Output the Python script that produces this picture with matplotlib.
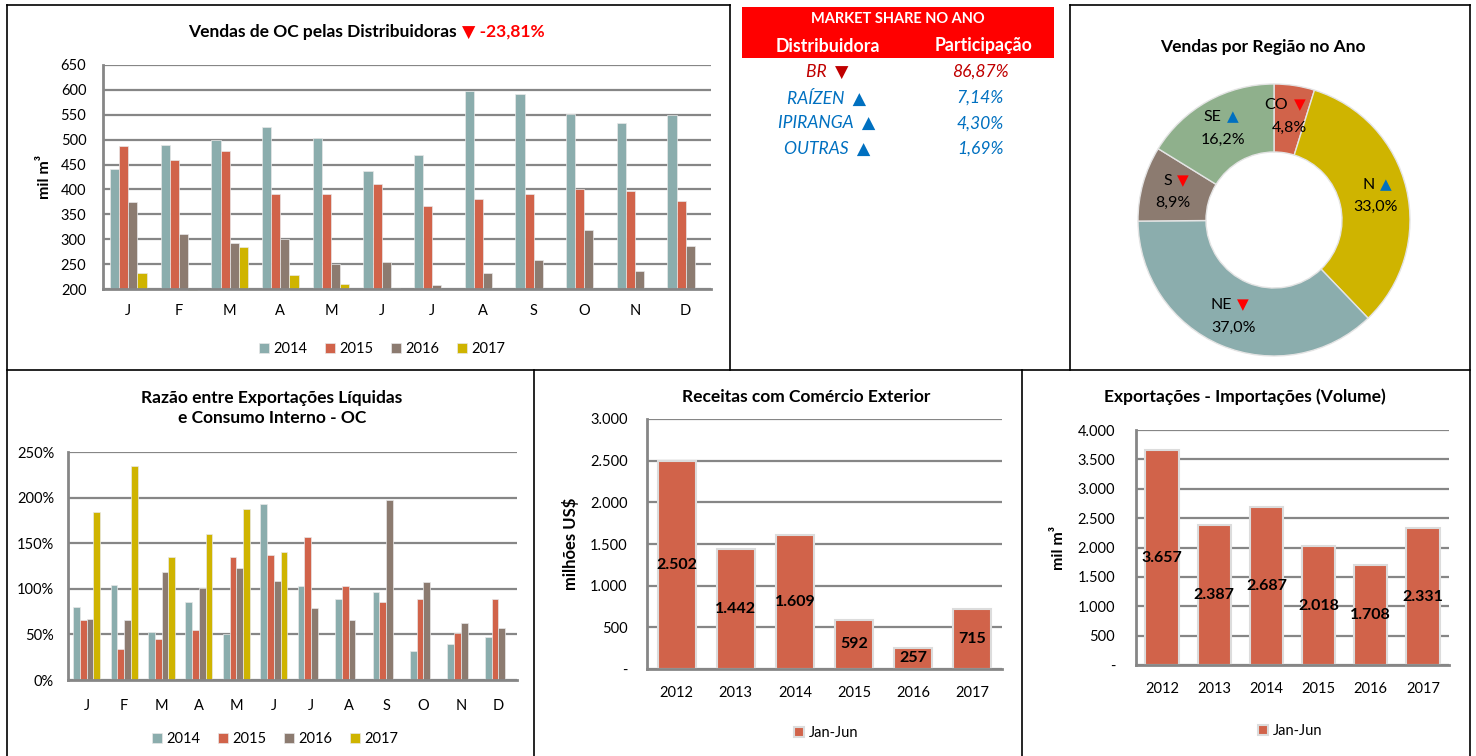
import matplotlib
matplotlib.use('Agg')
import matplotlib.pyplot as plt
from matplotlib.lines import Line2D
from matplotlib.patches import Rectangle
import numpy as np

plt.rcParams['font.family'] = ['Lato', 'DejaVu Sans']

W, H = 1476, 756

# ---- dados ----
meses = ['J', 'F', 'M', 'A', 'M', 'J', 'J', 'A', 'S', 'O', 'N', 'D']
anos = ['2014', '2015', '2016', '2017']
vendas_2014 = [442, 490, 499, 525, 504, 438, 469, 597, 592, 552, 533, 550]
vendas_2015 = [487, 460, 477, 390, 390, 410, 367, 381, 390, 400, 397, 377]
vendas_2016 = [375, 310, 292, 300, 250, 255, 209, 233, 258, 318, 237, 286]
vendas_2017 = [233, 197, 285, 229, 211, 203, np.nan, np.nan, np.nan, np.nan, np.nan, np.nan]
variacao_vendas = '-23,81%'

razao_2014 = [80, 104, 53, 85, 50, 193, 103, 89, 96, 32, 39, 47]
razao_2015 = [66, 34, 45, 55, 135, 137, 157, 103, 85, 89, 51, 89]
razao_2016 = [67, 66, 118, 101, 123, 109, 79, 66, 197, 107, 63, 57]
razao_2017 = [184, 235, 135, 160, 187, 140, np.nan, np.nan, np.nan, np.nan, np.nan, np.nan]

distribuidoras = ['BR', 'RAÍZEN', 'IPIRANGA', 'OUTRAS']
participacao = ['86,87%', '7,14%', '4,30%', '1,69%']
dist_sobe = [False, True, True, True]

regioes = ['CO', 'N', 'NE', 'S', 'SE']
regiao_share = [4.8, 33.0, 37.0, 8.9, 16.2]
regiao_sobe = [False, True, False, False, True]

anos_ext = ['2012', '2013', '2014', '2015', '2016', '2017']
receitas = [2502, 1442, 1609, 592, 257, 715]
volume_liq = [3657, 2387, 2687, 2018, 1708, 2331]

cores = ['#8BADAD', '#D1634A', '#8C7B70', '#CFB400']
cores_regiao = ['#D1634A', '#CFB400', '#8BADAD', '#8C7B70', '#8FB08C']
VERMELHO = '#FF0000'
AZUL = '#0070C0'
GRADE = '#868686'
TITULO = 12.5


def rect(x0, y0, x1, y1):
    return [x0 / W, 1 - y1 / H, (x1 - x0) / W, (y1 - y0) / H]


def fx(px):
    return px / W


def fy(py):
    return 1 - py / H


def milhar(v, pos=None):
    if v == 0:
        return '-'
    return f'{v:,.0f}'.replace(',', '.')


def estilo(ax, ypad, xpad):
    for s in ['top', 'right']:
        ax.spines[s].set_visible(False)
    for s in ['left', 'bottom']:
        ax.spines[s].set_color(GRADE)
        ax.spines[s].set_linewidth(2)
    ax.grid(axis='y', color=GRADE, linewidth=1.6)
    ax.set_axisbelow(True)
    ax.tick_params(axis='both', length=0, labelsize=10.5, colors='black')
    ax.tick_params(axis='y', pad=ypad)
    ax.tick_params(axis='x', pad=xpad)


fig = plt.figure(figsize=(W / 100, H / 100), dpi=100)

# ---- vendas mensais ----
ax1 = fig.add_axes(rect(103, 65, 711, 289))
x = np.arange(len(meses))
bw = 0.18
for i, serie in enumerate([vendas_2014, vendas_2015, vendas_2016, vendas_2017]):
    vals = np.array(serie, dtype=float)
    ax1.bar(x + (i - 1.5) * bw, vals - 200, bw, bottom=200, color=cores[i],
            edgecolor='#e8e8e8', linewidth=0.5, label=anos[i], clip_on=False)
ax1.set_ylim(200, 650)
ax1.set_yticks(range(200, 651, 50))
ax1.set_xlim(-0.5, 11.5)
ax1.set_xticks(x)
ax1.set_xticklabels(meses)
estilo(ax1, 12, 11)
ax1.set_ylabel('mil m³', fontsize=11.5, fontweight='bold', labelpad=6)
ax1.legend(loc='center', bbox_to_anchor=(fx(382), fy(349)), bbox_transform=fig.transFigure,
           ncol=4, frameon=False, fontsize=10.5, handlelength=0.7, handleheight=0.7,
           handletextpad=0.3, columnspacing=1.2)
t1 = fig.text(fx(188), fy(32), 'Vendas de OC pelas Distribuidoras', fontsize=TITULO,
              fontweight='bold', ha='left', va='center')
ax1.annotate('▼ ' + variacao_vendas, xy=(1, 0.5), xycoords=t1, xytext=(4, 0),
             textcoords='offset points', fontsize=TITULO, fontweight='bold', color=VERMELHO,
             va='center', ha='left', annotation_clip=False)

# ---- market share ----
fig.patches.append(Rectangle((fx(742), fy(58)), fx(1054) - fx(742), fy(7) - fy(58),
                             transform=fig.transFigure, facecolor=VERMELHO, edgecolor='none'))
fig.text(fx(898), fy(19), 'MARKET SHARE NO ANO', color='white', fontsize=10.5,
         fontweight='bold', ha='center', va='center')
fig.text(fx(828), fy(46), 'Distribuidora', color='white', fontsize=12.8,
         fontweight='bold', ha='center', va='center')
fig.text(fx(984), fy(46), 'Participação', color='white', fontsize=12.8,
         fontweight='bold', ha='center', va='center')
for k, (nome, part, sobe) in enumerate(zip(distribuidoras, participacao, dist_sobe)):
    yy = 72 + k * 25.7
    cor = AZUL if sobe else '#C00000'
    fig.text(fx(827), fy(yy), nome + '  ' + ('▲' if sobe else '▼'), color=cor,
             fontsize=12.6, style='italic', ha='center', va='center')
    fig.text(fx(980), fy(yy), part, color=cor, fontsize=12.6, style='italic',
             ha='center', va='center')

# ---- donut regioes ----
ax2 = fig.add_axes(rect(1138, 84, 1410, 356))
wedges, _ = ax2.pie(regiao_share, colors=cores_regiao, startangle=90, counterclock=False,
                    radius=1, wedgeprops=dict(width=0.5, edgecolor='#e4e4e4', linewidth=1))
ax2.set_xlim(-1, 1)
ax2.set_ylim(-1, 1)
ax2.set_aspect('equal')
for w, nome, val, sobe in zip(wedges, regioes, regiao_share, regiao_sobe):
    ang = np.deg2rad((w.theta1 + w.theta2) / 2)
    px, py = 0.77 * np.cos(ang), 0.77 * np.sin(ang)
    tn = ax2.annotate(nome, xy=(px, py), xytext=(-1, 8), textcoords='offset points',
                      fontsize=11.5, ha='right', va='center')
    ax2.annotate('▲' if sobe else '▼', xy=(1, 0.5), xycoords=tn, xytext=(4, 0),
                 textcoords='offset points', fontsize=11, color=AZUL if sobe else VERMELHO,
                 ha='left', va='center', annotation_clip=False)
    ax2.annotate(f'{val:.1f}%'.replace('.', ','), xy=(px, py), xytext=(0, -8),
                 textcoords='offset points', fontsize=11.5, ha='center', va='center')
fig.text(fx(1263), fy(47), 'Vendas por Região no Ano', fontsize=TITULO, fontweight='bold',
         ha='center', va='center')

# ---- razao exportacoes / consumo ----
ax3 = fig.add_axes(rect(68, 452, 517, 680))
for i, serie in enumerate([razao_2014, razao_2015, razao_2016, razao_2017]):
    ax3.bar(x + (i - 1.5) * bw, np.array(serie, dtype=float), bw, color=cores[i],
            edgecolor='#e8e8e8', linewidth=0.5, label=anos[i])
ax3.set_ylim(0, 250)
ax3.set_yticks(range(0, 251, 50))
ax3.yaxis.set_major_formatter(lambda v, p: f'{v:.0f}%')
ax3.set_xlim(-0.5, 11.5)
ax3.set_xticks(x)
ax3.set_xticklabels(meses)
estilo(ax3, 10, 13.5)
ax3.legend(loc='center', bbox_to_anchor=(fx(275), fy(739)), bbox_transform=fig.transFigure,
           ncol=4, frameon=False, fontsize=10.5, handlelength=0.7, handleheight=0.7,
           handletextpad=0.3, columnspacing=1.2)
fig.text(fx(272), fy(408), 'Razão entre Exportações Líquidas\ne Consumo Interno - OC',
         fontsize=TITULO, fontweight='bold', ha='center', va='center', linespacing=1.35)

# ---- receitas comercio exterior ----
def barras_ano(ax, valores, ymax, passo):
    xa = np.arange(len(anos_ext))
    ax.bar(xa, valores, 0.64, color=cores[1], edgecolor='#dcdcdc', linewidth=1.5,
           label='Jan-Jun')
    for xi, v in zip(xa, valores):
        ax.text(xi, v / 2, milhar(v), ha='center', va='center', fontsize=11.5,
                fontweight='bold', color='black')
    ax.set_ylim(0, ymax)
    ax.set_yticks(range(0, ymax + 1, passo))
    ax.yaxis.set_major_formatter(milhar)
    ax.set_xlim(-0.5, len(anos_ext) - 0.5)
    ax.set_xticks(xa)
    ax.set_xticklabels(anos_ext)


ax4 = fig.add_axes(rect(647, 419, 1002, 669))
barras_ano(ax4, receitas, 3000, 500)
estilo(ax4, 14, 12)
ax4.set_ylabel('milhões US$', fontsize=12, fontweight='bold', labelpad=8)
ax4.legend(loc='center', bbox_to_anchor=(fx(826), fy(733)), bbox_transform=fig.transFigure,
           frameon=False, fontsize=10.5, handlelength=0.7, handleheight=0.7, handletextpad=0.3)
fig.text(fx(806), fy(397), 'Receitas com Comércio Exterior', fontsize=TITULO,
         fontweight='bold', ha='center', va='center')

# ---- exportacoes - importacoes ----
ax5 = fig.add_axes(rect(1136, 430, 1449, 665))
barras_ano(ax5, volume_liq, 4000, 500)
estilo(ax5, 15, 12)
ax5.set_ylabel('mil m³', fontsize=11.5, fontweight='bold', labelpad=8)
ax5.legend(loc='center', bbox_to_anchor=(fx(1290), fy(731)), bbox_transform=fig.transFigure,
           frameon=False, fontsize=10.5, handlelength=0.7, handleheight=0.7, handletextpad=0.3)
fig.text(fx(1245), fy(397), 'Exportações - Importações (Volume)', fontsize=TITULO,
         fontweight='bold', ha='center', va='center')

# ---- molduras ----
def linha(x0, y0, x1, y1):
    fig.lines.append(Line2D([fx(x0), fx(x1)], [fy(y0), fy(y1)], transform=fig.transFigure,
                            color='black', linewidth=1.2))


linha(7, 5, 730, 5)
linha(7, 5, 7, 756)
linha(730, 5, 730, 370)
linha(1070, 5, 1470, 5)
linha(1070, 5, 1070, 370)
linha(1470, 5, 1470, 756)
linha(7, 370, 1470, 370)
linha(534, 370, 534, 756)
linha(1022, 370, 1022, 756)

fig.savefig('out.png', dpi=100)
